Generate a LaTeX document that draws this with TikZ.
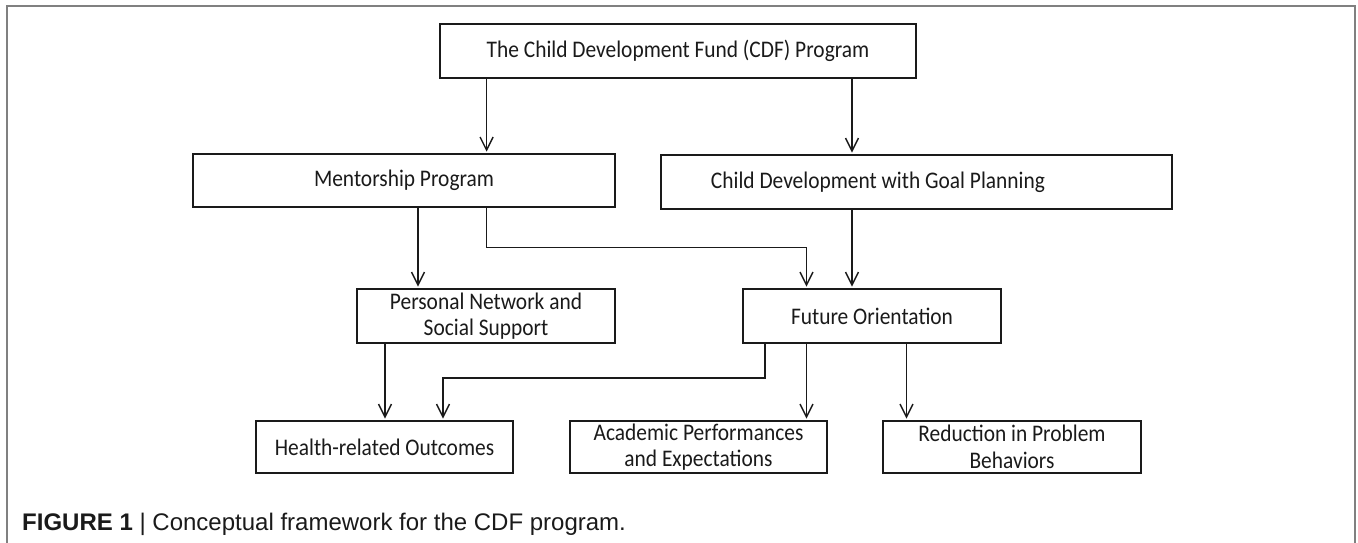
\documentclass[tikz,border=0pt]{standalone}
\usepackage{fontspec}
\setmainfont{Carlito}[FakeStretch=0.9]
\newfontfamily\capfont{Liberation Sans}
\usetikzlibrary{arrows.meta,calc}
\definecolor{framegray}{HTML}{808080}
\definecolor{ink}{HTML}{1A1A1A}
\begin{document}
\begin{tikzpicture}[x=1pt,y=-1pt,
  box/.style={draw=ink,line width=1.8pt,inner sep=0pt,align=center,text=ink,
    font=\fontsize{23.8}{26.5}\selectfont},
  arr/.style={draw=ink,line width=1.4pt,shorten >=1.5pt,
    -{Straight Barb[length=13pt,width=13pt,line width=1.4pt]}},
  frame/.style={draw=framegray,line width=1.6pt}]
\useasboundingbox (0,0) rectangle (1358,542);
\draw[frame] (7,560) -- (7,6) -- (1355,6) -- (1355,560);

\node[box,minimum width=476pt,minimum height=54pt] (top) at (678,51) {The Child Development Fund (CDF) Program};
\node[box,minimum width=422pt,minimum height=53pt] (men) at (404,180.5) {Mentorship Program};
\node[box,minimum width=511pt,minimum height=54pt] (cdg) at (916.5,182) {Child Development with Goal Planning\hspace*{77pt}};
\node[box,minimum width=258pt,minimum height=54pt] (pns) at (486,316) {Personal Network and\\Social Support};
\node[box,minimum width=258pt,minimum height=54pt] (fut) at (872,316) {Future Orientation};
\node[box,minimum width=257pt,minimum height=52pt] (hro) at (384.5,447) {Health-related Outcomes};
\node[box,minimum width=257pt,minimum height=52pt] (ape) at (698.5,447) {Academic Performances\\and Expectations};
\node[box,minimum width=258pt,minimum height=52pt] (rpb) at (1012,447) {Reduction in Problem\\Behaviors};

\coordinate (xa) at (486.6,0);
\coordinate (xb) at (852,0);
\coordinate (xc) at (418,0);
\coordinate (xd) at (806.5,0);
\coordinate (xe) at (385,0);
\coordinate (xf) at (765,0);
\coordinate (xg) at (443,0);
\coordinate (xh) at (906.5,0);
\coordinate (ya) at (0,247.5);
\coordinate (yb) at (0,378);

\draw[arr] (top.south -| xa) -- (men.north -| xa);
\draw[arr] (top.south -| xb) -- (cdg.north -| xb);
\draw[arr] (men.south -| xc) -- (pns.north -| xc);
\draw[arr] (men.south -| xa) -- (xa |- ya) -- (xd |- ya) -- (fut.north -| xd);
\draw[arr] (cdg.south -| xb) -- (fut.north -| xb);
\draw[arr] (pns.south -| xe) -- (hro.north -| xe);
\draw[arr] (fut.south -| xf) -- (xf |- yb) -- (xg |- yb) -- (hro.north -| xg);
\draw[arr] (fut.south -| xd) -- (ape.north -| xd);
\draw[arr] (fut.south -| xh) -- (rpb.north -| xh);

\node[anchor=base west,inner sep=0pt,font=\capfont\fontsize{24}{26}\selectfont,text=ink] (cap) at (22,530)
  {{\bfseries FIGURE 1} | Conceptual framework for the CDF program.};
\end{tikzpicture}
\end{document}
